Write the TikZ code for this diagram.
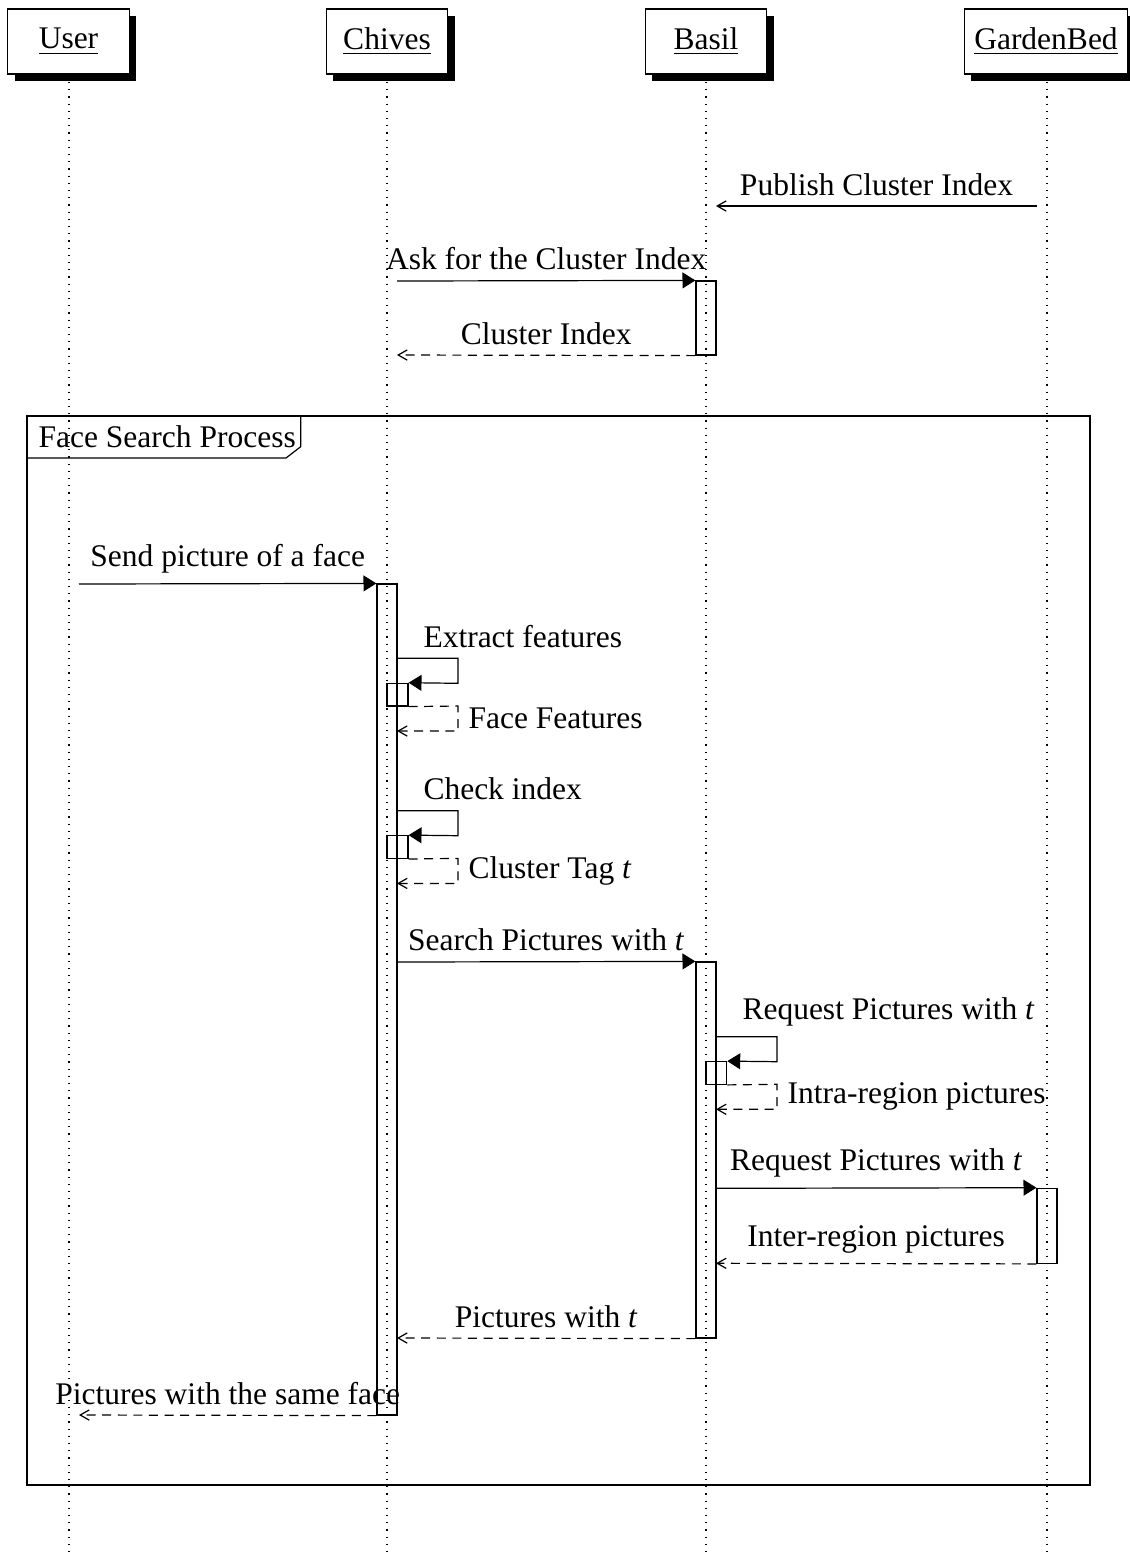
\documentclass[tikz,border=0pt]{standalone}
\usepackage{fontspec}
\setmainfont{Liberation Serif}
\usetikzlibrary{arrows.meta,shadows,fit}

\tikzset{
  every picture/.style={line width=0.4pt},
  inst/.style={draw, fill=white, minimum width=40.5pt, minimum height=21.7pt,
    inner sep=3.33pt,
    drop shadow={opacity=1, fill=black, shadow xshift=2.4pt, shadow yshift=-2.4pt}},
  lifeline/.style={dotted},
  act/.style={draw, inner sep=0pt, fill=none},
  call/.style={-{Triangle[length=4.3pt,width=5.3pt]}},
  async/.style={-{Straight Barb[length=3pt,width=3.4pt]}},
  ret/.style={dash pattern=on 3pt off 2.2pt, -{Straight Barb[length=3pt,width=3.4pt]}},
}

\begin{document}
\begin{tikzpicture}[x=0.3333pt, y=-0.3333pt, font=\fontsize{10.5}{12.5}\selectfont]
\useasboundingbox (0,0) rectangle (1130,1557);

% participants
\node[inst] (user)   at (68.5,41.5) {\underline{User}};
\node[inst] (chives) at (387,41.5)  {\underline{Chives}};
\node[inst] (basil)  at (706,41.5)  {\underline{Basil}};
\node[inst] (garden) at (1046,41.5) {\underline{GardenBed}};

% lifelines
\draw[lifeline] (69,82)   -- (69,1557);
\draw[lifeline] (387,82)  -- (387,1557);
\draw[lifeline] (706,82)  -- (706,1557);
\draw[lifeline] (1047,82) -- (1047,1557);

% frame
\draw (27,416) rectangle (1090,1485);
\draw (27,416) -- (300.7,416) -- (300.7,446.7) -- (286,458) -- (27,458);
\node[anchor=base west, inner sep=0pt] (frametitle) at (38,447.5) {Face Search Process};

% activations
\node[act, fit={(696,281)(716,355)}]    (basilA) {};
\node[act, fit={(377,584)(397,1415)}]   (chivesA) {};
\node[act, fit={(387,683.3)(408,706)}]  (chivesN1) {};
\node[act, fit={(387,835.7)(408,858.4)}] (chivesN2) {};
\node[act, fit={(696,962)(716,1338)}]   (basilB) {};
\node[act, fit={(706,1061.7)(726.7,1084.3)}] (basilN) {};
\node[act, fit={(1037,1188.3)(1057,1263.3)}] (gardenA) {};

% free ends of messages
\coordinate (gPub)  at (1037,206);
\coordinate (bPub)  at (716,206);
\coordinate (cAsk)  at (397,281);
\coordinate (cRet)  at (397,355);
\coordinate (uSend) at (79,584);
\coordinate (s1)    at (397,658.3);
\coordinate (r1)    at (397,731);
\coordinate (s2)    at (397,810.7);
\coordinate (r2)    at (397,883.4);
\coordinate (cSrch) at (397,962);
\coordinate (s3)    at (716,1036.7);
\coordinate (r3)    at (716,1109.3);
\coordinate (bReq)  at (716,1188.3);
\coordinate (bInt)  at (716,1263.3);
\coordinate (cPic)  at (397,1338);
\coordinate (uPic)  at (79,1415);

% messages
\draw[async] (gPub) -- node[midway, above] {Publish Cluster Index} (bPub);
\draw[call] (cAsk) -- node[midway, above] {Ask for the Cluster Index} (basilA.north west);
\draw[ret] (basilA.south west) -- node[midway, above] {Cluster Index} (cRet);

\draw[call] (uSend) -- node[midway, above] {Send picture of a face} (chivesA.north west);

% self call: extract features
\draw[call] (s1) -- (458,658.3) -- (458,683.3) -- (chivesN1.north east);
\node[anchor=south west, xshift=5.3pt] (lblExtract) at (s1) {Extract features};
\draw[ret] (chivesN1.south east) -- (458,706) -- node[right] {Face Features} (458,731) -- (r1);

% self call: check index
\draw[call] (s2) -- (458,810.7) -- (458,835.7) -- (chivesN2.north east);
\node[anchor=south west, xshift=5.3pt] (lblCheck) at (s2) {Check index};
\draw[ret] (chivesN2.south east) -- (458,858.4) -- node[right] {Cluster Tag \textit{t}} (458,883.4) -- (r2);

\draw[call] (cSrch) -- node[midway, above] {Search Pictures with \textit{t}} (basilB.north west);

% self call on Basil
\draw[call] (s3) -- (777,1036.7) -- (777,1061.7) -- (basilN.north east);
\node[anchor=south west, xshift=5.3pt] (lblReqSelf) at (s3) {Request Pictures with \textit{t}};
\draw[ret] (basilN.south east) -- (777,1084.3) -- node[right] {Intra-region pictures} (777,1109.3) -- (r3);

\draw[call] (bReq) -- node[midway, above] {Request Pictures with \textit{t}} (gardenA.north west);
\draw[ret] (gardenA.south west) -- node[midway, above] {Inter-region pictures} (bInt);

\draw[ret] (basilB.south west) -- node[midway, above] {Pictures with \textit{t}} (cPic);
\draw[ret] (chivesA.south west) -- node[midway, above] {Pictures with the same face} (uPic);
\end{tikzpicture}
\end{document}
